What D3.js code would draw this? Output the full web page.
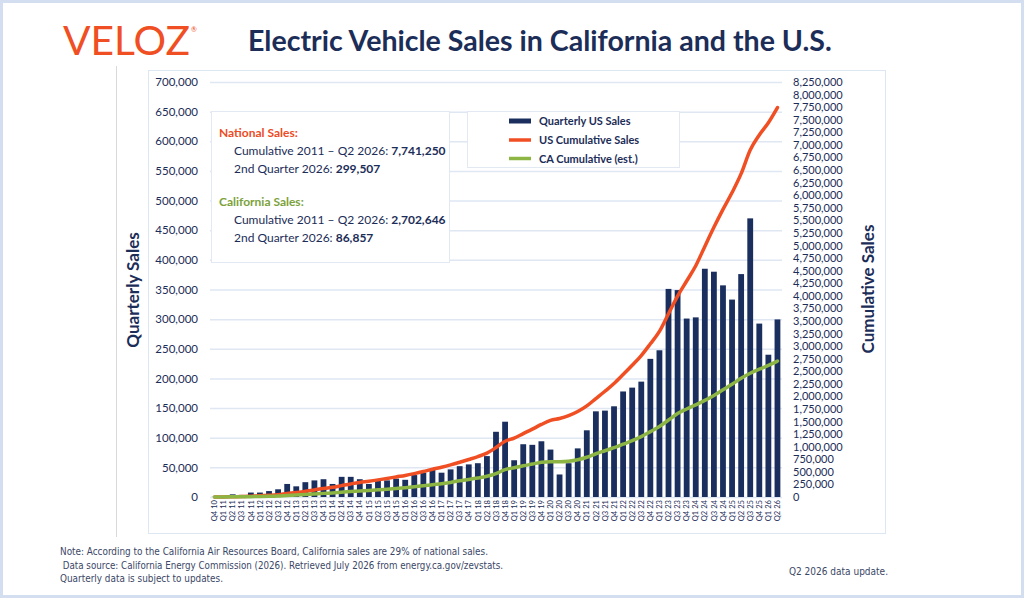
<!DOCTYPE html>
<html>
<head>
<meta charset="utf-8">
<script src="https://cdn.jsdelivr.net/npm/d3@7"></script>
<style>
  html, body { margin: 0; padding: 0; background: #fff; }
  svg { display: block; font-family: Lato, 'Open Sans', sans-serif; }
</style>
</head>
<body>
<svg id="chart" width="1024" height="598"></svg>
<script>
// quarter labels, Q4 2010 .. Q2 2026
const quarters = ['Q4 10',
  'Q1 11', 'Q2 11', 'Q3 11', 'Q4 11', 'Q1 12', 'Q2 12', 'Q3 12', 'Q4 12',
  'Q1 13', 'Q2 13', 'Q3 13', 'Q4 13', 'Q1 14', 'Q2 14', 'Q3 14', 'Q4 14',
  'Q1 15', 'Q2 15', 'Q3 15', 'Q4 15', 'Q1 16', 'Q2 16', 'Q3 16', 'Q4 16',
  'Q1 17', 'Q2 17', 'Q3 17', 'Q4 17', 'Q1 18', 'Q2 18', 'Q3 18', 'Q4 18',
  'Q1 19', 'Q2 19', 'Q3 19', 'Q4 19', 'Q1 20', 'Q2 20', 'Q3 20', 'Q4 20',
  'Q1 21', 'Q2 21', 'Q3 21', 'Q4 21', 'Q1 22', 'Q2 22', 'Q3 22', 'Q4 22',
  'Q1 23', 'Q2 23', 'Q3 23', 'Q4 23', 'Q1 24', 'Q2 24', 'Q3 24', 'Q4 24',
  'Q1 25', 'Q2 25', 'Q3 25', 'Q4 25', 'Q1 26', 'Q2 26']

const usQuarterly = [300, 1000, 4500, 3500, 7500, 7500, 10000, 13000, 22000, 18000,
  25000, 28000, 30000, 22000, 34000, 34000, 30000, 22000, 28000, 28000,
  31000, 29000, 37000, 41000, 45500, 41000, 46600, 52000, 55000, 57000,
  69000, 110000, 127000, 62000, 89000, 88000, 94000, 80000, 38000, 57000,
  82000, 112500, 144500, 145700, 153000, 178000, 184500, 194600, 233000, 247500,
  351000, 349000, 301000, 303000, 385000, 380000, 357000, 333000, 376000, 470000,
  292500, 240000, 299507]

const usCumulative = [300, 1300, 5800, 9300, 16800, 24300, 34300, 47300, 69300, 87300,
  112300, 140300, 170300, 192300, 226300, 260300, 290300, 312300, 340300, 368300,
  399300, 428300, 465300, 506300, 551800, 592800, 639400, 691400, 746400, 803400,
  872400, 982400, 1109400, 1171400, 1260400, 1348400, 1442400, 1522400, 1560400, 1617400,
  1699400, 1811900, 1956400, 2102100, 2255100, 2433100, 2617600, 2812200, 3045200, 3292700,
  3643700, 3992700, 4293700, 4596700, 4981700, 5361700, 5718700, 6051700, 6427700, 6897700,
  7197000, 7441000, 7741250]

const caCumulative = [100, 500, 2500, 4000, 7000, 10000, 14000, 20000, 30000, 38000,
  48000, 60000, 72000, 81000, 95000, 108000, 120000, 130000, 142000, 155000,
  170000, 185000, 203000, 222000, 245000, 265000, 290000, 325000, 350000, 378000,
  412000, 465000, 545000, 580000, 620000, 655000, 690000, 700000, 700000, 710000,
  740000, 790000, 860000, 920000, 980000, 1050000, 1120000, 1200000, 1300000, 1400000,
  1530000, 1660000, 1750000, 1830000, 1920000, 2020000, 2130000, 2240000, 2360000, 2460000,
  2540000, 2616000, 2702646]

const leftTicks = d3.range(0, 700001, 50000)
const rightTicks = d3.range(0, 8250001, 250000)

const legendItems = ['Quarterly US Sales', 'US Cumulative Sales', 'CA Cumulative (est.)']
const footNotes = [
  'Note: According to the California Air Resources Board, California sales are 29% of national sales.',
  ' Data source: California Energy Commission (2026). Retrieved July 2026 from energy.ca.gov/zevstats.',
  'Quarterly data is subject to updates.'
]

const navy = '#1c2d58'
const barColor = '#1b2f5e'
const red = '#f04e23'
const green = '#8db543'
const gridColor = '#dfe7f3'

const svg = d3.select('#chart')

// page frame
svg.append('rect')
  .attr('x', 1.5).attr('y', 1.5).attr('width', 1021).attr('height', 595)
  .attr('fill', 'none').attr('stroke', '#d3def0').attr('stroke-width', 3)

// logo
const logo = svg.append('text')
  .attr('x', 63).attr('y', 55)
  .attr('fill', red).attr('font-size', 41).attr('font-weight', 400)
  .text('VELOZ')
logo.attr('textLength', 127).attr('lengthAdjust', 'spacingAndGlyphs')
svg.append('text')
  .attr('x', 191).attr('y', 32)
  .attr('fill', red).attr('font-size', 7)
  .text('®')

// title
const title = svg.append('text')
  .attr('x', 248).attr('y', 51)
  .attr('fill', navy).attr('font-size', 24).attr('font-weight', 700)
  .text('Electric Vehicle Sales in California and the U.S.')
const tw = title.node().getComputedTextLength()
title.attr('font-size', 24 * 584 / tw)

// side rule + chart frame
svg.append('line')
  .attr('x1', 116.5).attr('x2', 116.5).attr('y1', 66).attr('y2', 537)
  .attr('stroke', '#d9d9d9')
svg.append('rect')
  .attr('x', 148.5).attr('y', 70.5).attr('width', 737).attr('height', 463)
  .attr('fill', '#fff').attr('stroke', '#dde6f3')

// scales
const x = d3.scaleBand().domain(quarters).range([210, 782]).paddingInner(0.36).paddingOuter(0.18)
const yLeft = d3.scaleLinear().domain([0, 700000]).range([497, 82])
const yRight = d3.scaleLinear().domain([0, 8250000]).range([497, 82])

// grid
svg.append('g')
  .selectAll('line')
  .data(leftTicks)
  .enter()
  .append('line')
  .attr('x1', 210).attr('x2', 782)
  .attr('y1', d => yLeft(d) + 0.5).attr('y2', d => yLeft(d) + 0.5)
  .attr('stroke', gridColor).attr('stroke-width', 1.5)

// axes
const fmt = d3.format(',')
const leftAxis = svg.append('g')
  .attr('transform', 'translate(201,0)')
  .call(d3.axisLeft(yLeft).tickValues(leftTicks).tickFormat(fmt).tickSize(0).tickPadding(3))
const rightAxis = svg.append('g')
  .attr('transform', 'translate(790,0)')
  .call(d3.axisRight(yRight).tickValues(rightTicks).tickFormat(fmt).tickSize(0).tickPadding(3))
const bottomAxis = svg.append('g')
  .attr('transform', 'translate(0,497)')
  .call(d3.axisBottom(x).tickSize(0))

svg.selectAll('.domain').remove()
leftAxis.selectAll('text').attr('fill', navy).attr('font-size', 11.5).attr('font-family', 'Lato')
rightAxis.selectAll('text').attr('fill', navy).attr('font-size', 11).attr('font-family', 'Lato')
bottomAxis.selectAll('text')
  .attr('fill', navy).attr('font-size', 7.6).attr('font-family', 'Lato')
  .attr('transform', 'rotate(-90)')
  .attr('text-anchor', 'end')
  .attr('x', -3).attr('y', 0).attr('dy', '0.35em')

// axis titles
svg.append('text')
  .attr('transform', 'translate(139,290) rotate(-90)')
  .attr('text-anchor', 'middle')
  .attr('fill', navy).attr('font-size', 17).attr('font-weight', 700)
  .text('Quarterly Sales')
svg.append('text')
  .attr('transform', 'translate(874,289) rotate(-90)')
  .attr('text-anchor', 'middle')
  .attr('fill', navy).attr('font-size', 17).attr('font-weight', 700)
  .text('Cumulative Sales')

// bars
svg.append('g')
  .selectAll('rect')
  .data(usQuarterly)
  .enter()
  .append('rect')
  .attr('x', (d, i) => x(quarters[i]))
  .attr('width', x.bandwidth())
  .attr('y', d => yLeft(d))
  .attr('height', d => yLeft(0) - yLeft(d))
  .attr('fill', barColor)

// cumulative lines
const line = d3.line()
  .x((d, i) => x(quarters[i]) + x.bandwidth() / 2)
  .y(d => yRight(d))
  .curve(d3.curveMonotoneX)

svg.append('path')
  .attr('d', line(usCumulative))
  .attr('fill', 'none').attr('stroke', red).attr('stroke-width', 3.5)
  .attr('stroke-linecap', 'round')
svg.append('path')
  .attr('d', line(caCumulative))
  .attr('fill', 'none').attr('stroke', green).attr('stroke-width', 3.5)
  .attr('stroke-linecap', 'round')

// info box
const info = svg.append('g')
info.append('rect')
  .attr('x', 211.5).attr('y', 111.5).attr('width', 238).attr('height', 151)
  .attr('fill', '#fff').attr('stroke', '#e3e9f3')

const infoLines = [
  { y: 137, x: 219, head: 'National Sales:', color: '#ee4a24' },
  { y: 155, x: 234, label: 'Cumulative 2011 – Q2 2026: ', value: '7,741,250' },
  { y: 173, x: 234, label: '2nd Quarter 2026: ', value: '299,507' },
  { y: 206, x: 219, head: 'California Sales:', color: '#7ba23a' },
  { y: 224, x: 234, label: 'Cumulative 2011 – Q2 2026: ', value: '2,702,646' },
  { y: 242, x: 234, label: '2nd Quarter 2026: ', value: '86,857' }
]
infoLines.forEach(l => {
  const t = info.append('text').attr('x', l.x).attr('y', l.y).attr('font-size', 12)
  if (l.head) {
    t.attr('fill', l.color).attr('font-weight', 700).text(l.head)
  } else {
    t.attr('fill', navy)
    t.append('tspan').text(l.label)
    t.append('tspan').attr('font-weight', 700).text(l.value)
  }
})

// legend
const legend = svg.append('g')
legend.append('rect')
  .attr('x', 467.5).attr('y', 111.5).attr('width', 212).attr('height', 56)
  .attr('fill', '#fff').attr('stroke', '#e3e9f3')
const legendY = [121, 140, 158.5]
const legendColor = [barColor, red, green]
const legendThick = [5, 3.5, 3.5]
legendItems.forEach((name, i) => {
  legend.append('line')
    .attr('x1', 509).attr('x2', 531)
    .attr('y1', legendY[i]).attr('y2', legendY[i])
    .attr('stroke', legendColor[i]).attr('stroke-width', legendThick[i])
  legend.append('text')
    .attr('x', 539).attr('y', legendY[i] + 4)
    .attr('fill', navy).attr('font-size', 11).attr('font-weight', 700)
    .text(name)
})

// footnotes
const footY = [554.5, 568.5, 582]
const footW = [428, 443, 163]
footNotes.forEach((s, i) => {
  svg.append('text')
    .attr('x', 60).attr('y', footY[i])
    .attr('fill', '#3b4766')
    .attr('font-family', "'Liberation Sans Narrow', 'DejaVu Sans Condensed', sans-serif")
    .attr('font-size', 10)
    .attr('textLength', footW[i]).attr('lengthAdjust', 'spacingAndGlyphs')
    .attr('xml:space', 'preserve')
    .text(s)
})
svg.append('text')
  .attr('x', 888).attr('y', 575).attr('text-anchor', 'end')
  .attr('fill', '#3b4766')
  .attr('font-family', "'Liberation Sans Narrow', 'DejaVu Sans Condensed', sans-serif")
  .attr('font-size', 10)
  .text('Q2 2026 data update.')
</script>
</body>
</html>
